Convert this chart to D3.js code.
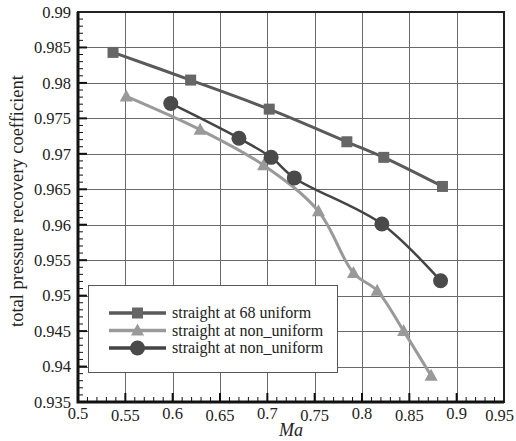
<!DOCTYPE html>
<html>
<head>
<meta charset="utf-8">
<script src="https://cdn.jsdelivr.net/npm/d3@7"></script>
<style>
  body { margin: 0; background: #fff; }
  svg { display: block; }
</style>
</head>
<body>
<div id="chart"></div>
<script>
// Total pressure recovery vs Mach number
const xTicks = [0.5, 0.55, 0.6, 0.65, 0.7, 0.75, 0.8, 0.85, 0.9, 0.95];
const xTickLabels = ["0.5", "0.55", "0.6", "0.65", "0.7", "0.75", "0.8", "0.85", "0.9", "0.95"];
const yTicks = [0.935, 0.94, 0.945, 0.95, 0.955, 0.96, 0.965, 0.97, 0.975, 0.98, 0.985, 0.99];
const yTickLabels = ["0.935", "0.94", "0.945", "0.95", "0.955", "0.96", "0.965", "0.97", "0.975", "0.98", "0.985", "0.99"];

const seriesNames = ["straight at 68 uniform", "straight at non_uniform", "straight at non_uniform"];

const maSquare = [0.537, 0.619, 0.702, 0.784, 0.823, 0.885];
const cpSquare = [0.9843, 0.9804, 0.9763, 0.9717, 0.9695, 0.9654];

const maTriangle = [0.551, 0.629, 0.696, 0.754, 0.791, 0.816, 0.844, 0.873];
const cpTriangle = [0.9781, 0.9734, 0.9684, 0.9619, 0.9532, 0.9507, 0.945, 0.9387];

const maCircle = [0.598, 0.670, 0.704, 0.7285, 0.821, 0.883];
const cpCircle = [0.9771, 0.9722, 0.9695, 0.9666, 0.9601, 0.9521];

const width = 516, height = 441;
const margin = { top: 12, right: 12, bottom: 39, left: 78 };
const serif = "'Liberation Serif', 'Times New Roman', 'DejaVu Serif', serif";

const svg = d3.select("#chart").append("svg")
  .attr("width", width)
  .attr("height", height)
  .attr("font-family", serif);

const x = d3.scaleLinear().domain([0.5, 0.95]).range([margin.left, width - margin.right]);
const y = d3.scaleLinear().domain([0.935, 0.99]).range([height - margin.bottom, margin.top]);

const x0 = x.range()[0], x1 = x.range()[1];
const y0 = y.range()[0], y1 = y.range()[1];

// grid
const grid = svg.append("g").attr("stroke", "#6a6a6a").attr("stroke-width", 1);
grid.selectAll(".gx").data(xTicks.slice(1, -1)).join("line")
  .attr("x1", d => Math.round(x(d)) + 0.5).attr("x2", d => Math.round(x(d)) + 0.5)
  .attr("y1", y1).attr("y2", y0);
grid.selectAll(".gy").data(yTicks.slice(1, -1)).join("line")
  .attr("y1", d => Math.round(y(d)) + 0.5).attr("y2", d => Math.round(y(d)) + 0.5)
  .attr("x1", x0).attr("x2", x1);

// minor + major ticks (inside, left and bottom)
const ticks = svg.append("g").attr("stroke", "#111");
const xMinor = d3.range(50, 96).map(v => v / 100);
ticks.selectAll(".xm").data(xMinor).join("line")
  .attr("x1", d => x(d)).attr("x2", d => x(d))
  .attr("y1", y0).attr("y2", d => (Math.round(d * 100) % 5 === 0 ? y0 - 9 : y0 - 5))
  .attr("stroke-width", d => (Math.round(d * 100) % 5 === 0 ? 2 : 1));
const yMinor = d3.range(935, 991).map(v => v / 1000);
ticks.selectAll(".ym").data(yMinor).join("line")
  .attr("y1", d => y(d)).attr("y2", d => y(d))
  .attr("x1", x0).attr("x2", d => (Math.round(d * 1000) % 5 === 0 ? x0 + 9 : x0 + 5))
  .attr("stroke-width", d => (Math.round(d * 1000) % 5 === 0 ? 2 : 1));

// frame
svg.append("rect")
  .attr("x", x0).attr("y", y1)
  .attr("width", x1 - x0).attr("height", y0 - y1)
  .attr("fill", "none").attr("stroke", "#222").attr("stroke-width", 2);
svg.append("path")
  .attr("d", `M${x0},${y1}V${y0}H${x1}`)
  .attr("fill", "none").attr("stroke", "#111").attr("stroke-width", 3);

// tick labels
svg.append("g").selectAll("text").data(yTicks).join("text")
  .attr("x", x0 - 7).attr("y", d => y(d)).attr("dy", "0.35em")
  .attr("text-anchor", "end").attr("font-size", 16.5).attr("fill", "#222")
  .text((d, i) => yTickLabels[i]);
// last label is pushed in so it stays on the page
svg.append("g").selectAll("text").data(xTicks).join("text")
  .attr("x", (d, i) => i === xTicks.length - 1 ? width - 2 : x(d))
  .attr("y", (d, i) => y0 + 17 + (i % 2 ? 2 : 0))
  .attr("text-anchor", (d, i) => i === xTicks.length - 1 ? "end" : "middle")
  .attr("font-size", 16.5).attr("fill", "#222")
  .text((d, i) => xTickLabels[i]);

// axis titles
svg.append("text")
  .attr("x", (x0 + x1) / 2).attr("y", 436)
  .attr("text-anchor", "middle").attr("font-size", 18).attr("font-style", "italic").attr("fill", "#222")
  .text("Ma");
svg.append("text")
  .attr("transform", `translate(23,${(y0 + y1) / 2 - 6}) rotate(-90)`)
  .attr("text-anchor", "middle").attr("font-size", 18.5).attr("fill", "#222")
  .text("total pressure recovery coefficient");

// series
const series = [
  { ma: maSquare, cp: cpSquare, line: "#5a5a5a", fill: "#666", width: 3, marker: "square" },
  { ma: maTriangle, cp: cpTriangle, line: "#9a9a9a", fill: "#999", width: 3, marker: "triangle" },
  { ma: maCircle, cp: cpCircle, line: "#444", fill: "#4a4a4a", width: 2.5, marker: "circle" }
];

const lineGen = d3.line().x(d => x(d[0])).y(d => y(d[1])).curve(d3.curveCatmullRom.alpha(0.5));

function drawMarker(g, type, cx, cy, fill) {
  if (type === "square") {
    g.append("rect").attr("x", cx - 5.5).attr("y", cy - 5.5).attr("width", 11).attr("height", 11).attr("fill", fill);
  } else if (type === "triangle") {
    g.append("path").attr("d", `M${cx},${cy - 7}L${cx + 6.5},${cy + 5}L${cx - 6.5},${cy + 5}Z`).attr("fill", fill);
  } else {
    g.append("circle").attr("cx", cx).attr("cy", cy).attr("r", 7.5).attr("fill", fill);
  }
}

series.forEach(s => {
  const pts = s.ma.map((m, i) => [m, s.cp[i]]);
  svg.append("path").datum(pts)
    .attr("d", lineGen)
    .attr("fill", "none").attr("stroke", s.line).attr("stroke-width", s.width);
  const g = svg.append("g");
  pts.forEach(p => drawMarker(g, s.marker, x(p[0]), y(p[1]), s.fill));
});

// legend
const lg = svg.append("g");
lg.append("rect")
  .attr("x", 88.5).attr("y", 285.5).attr("width", 249).attr("height", 87)
  .attr("fill", "#fff").attr("stroke", "#555").attr("stroke-width", 1);
series.forEach((s, i) => {
  const ly = 313 + i * 17.5;
  lg.append("line").attr("x1", 109).attr("x2", 166).attr("y1", ly).attr("y2", ly)
    .attr("stroke", s.line).attr("stroke-width", 3.5);
  drawMarker(lg, s.marker, 137.5, ly, s.fill);
  lg.append("text").attr("x", 172).attr("y", ly).attr("dy", "0.32em")
    .attr("font-size", 16).attr("fill", "#222")
    .text(seriesNames[i]);
});
</script>
</body>
</html>
